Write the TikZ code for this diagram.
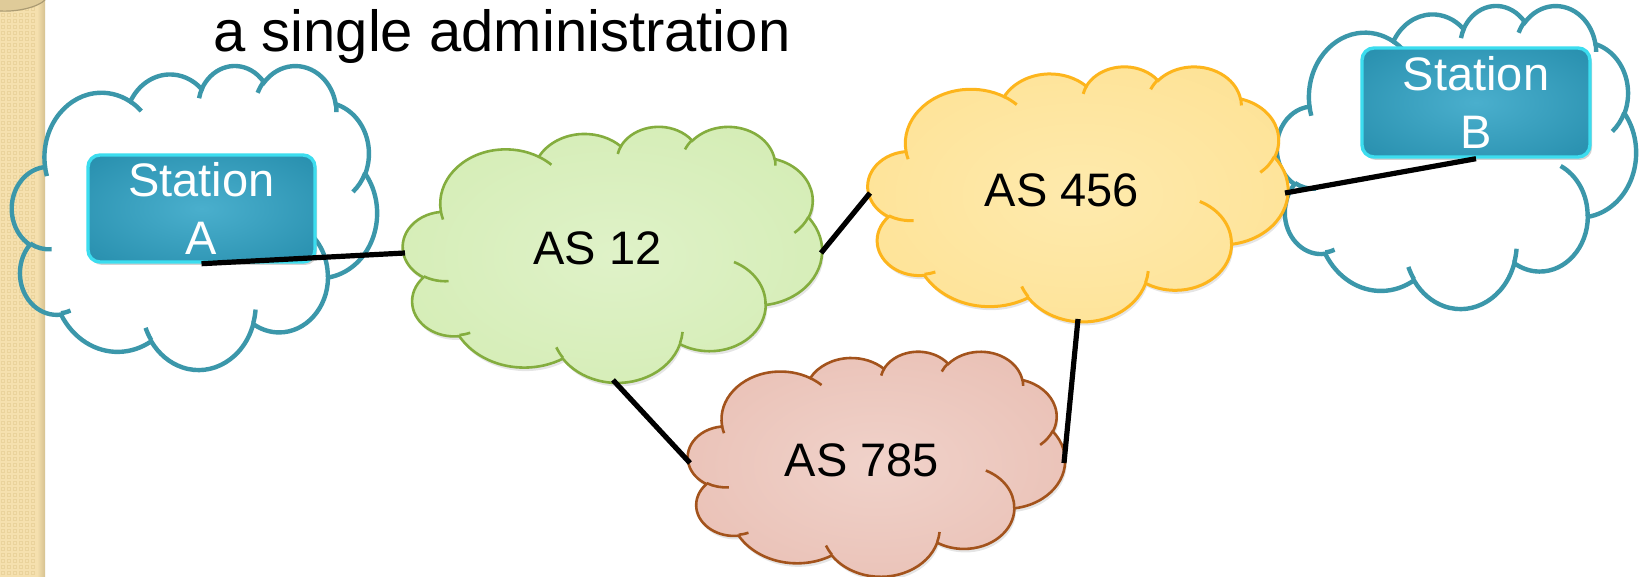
\documentclass[tikz,border=0pt]{standalone}
\usepackage{fontspec}
\setmainfont{Liberation Sans}
\usetikzlibrary{shadows}

\definecolor{tealstroke}{HTML}{3B97AA}
\definecolor{greenstroke}{HTML}{84AD3E}
\definecolor{greenin}{HTML}{DFF2C8}
\definecolor{greenout}{HTML}{CDE9A8}
\definecolor{yellowstroke}{HTML}{FDB51C}
\definecolor{yellowin}{HTML}{FEEAAD}
\definecolor{yellowout}{HTML}{FDDD86}
\definecolor{brownstroke}{HTML}{A3531C}
\definecolor{pinkin}{HTML}{F0D2CA}
\definecolor{pinkout}{HTML}{E5B4A7}
\definecolor{stationin}{HTML}{4AAFCD}
\definecolor{stationout}{HTML}{1E86A5}
\definecolor{stationrim}{HTML}{3CDDEF}
\definecolor{stripbase}{HTML}{F5E0AE}
\definecolor{stripgrid}{HTML}{EAD39C}
\definecolor{stripedge}{HTML}{D6C290}

\pgfdeclareradialshading{greenglow}{\pgfpointorigin}{color(0bp)=(greenin); color(50bp)=(greenout); color(100bp)=(greenout)}
\pgfdeclareradialshading{yellowglow}{\pgfpointorigin}{color(0bp)=(yellowin); color(50bp)=(yellowout); color(100bp)=(yellowout)}
\pgfdeclareradialshading{pinkglow}{\pgfpointorigin}{color(0bp)=(pinkin); color(50bp)=(pinkout); color(100bp)=(pinkout)}
\pgfdeclareradialshading{stationglow}{\pgfpointorigin}{color(0bp)=(stationin); color(45bp)=(stationout); color(100bp)=(stationout)}

% angle seen from the centre of an ellipse -> parameter angle of the ellipse
\makeatletter
\pgfmathdeclarefunction{visang}{3}{%
  \begingroup
  \pgfmathparse{atan2((#2)*sin(#1),(#3)*cos(#1))}%
  \let\va@tmp\pgfmathresult
  \pgfmathparse{\va@tmp+360*round(((#1)-\va@tmp)/360)}%
  \pgfmath@smuggleone\pgfmathresult
  \endgroup}
\makeatother

\tikzset{puff/.style args={#1/#2/#3/#4}{start angle={visang(#1,#3,#4)},
  end angle={visang(#1+#2,#3,#4)}, x radius=#3, y radius=#4}}

% cloud outline in a 432 x 432 box (y pointing down after the flip)
\newcommand\cloudoutline{(39.00,143.70)
 arc[puff=-190.4875/123.7805/67.53/91.90]
 arc[puff=-144.1024/89.9452/53.33/72.67]
 arc[puff=-145.8079/99.7230/43.65/59.45]
 arc[puff=-130.9861/117.2417/48.57/65.95]
 arc[puff=-78.7089/109.0269/53.33/72.73]
 arc[puff=-46.2673/130.2690/67.75/92.20]
 arc[puff=0.6250/114.0333/57.85/78.67]
 arc[puff=22.4516/115.1726/67.52/92.15]
 arc[puff=66.2426/75.7110/77.20/105.43]
 arc[puff=-274.9421/146.7356/43.60/59.18]
 arc[puff=-246.8285/152.5189/43.45/59.45]
 -- cycle}

% the short inner arcs between the puffs
\newcommand\cloudcreases{
 (46.93,261.77) arc[puff=86.7420/26.4295/43.45/59.45]
 (69.28,348.99) arc[puff=73.6105/11.4475/43.60/59.18]
 (164.78,390.90) arc[puff=137.6242/14.0811/67.52/92.15]
 (288.27,347.51) arc[puff=6.4533/15.9984/67.52/92.15]
 (341.29,229.54) arc[puff=-70.2924/70.9174/57.85/78.67]
 (417.98,153.54) arc[puff=30.3180/27.7515/53.33/72.73]
 (383.24,54.26) arc[puff=-13.7443/14.8589/48.57/65.95]
 (290.78,39.52) arc[puff=-149.1815/18.1954/48.57/65.95]
 (221.41,47.20) arc[puff=-163.4943/17.6864/43.65/59.45]
 (140.00,51.92) arc[puff=-66.7070/12.3194/67.53/91.90]
 (41.27,157.89) arc[puff=157.6544/11.8582/67.53/91.90]}

% #1,#2 top-left corner, #3 width, #4 height, #5 body style, #6 crease style
\newcommand\drawcloud[6]{%
 \begin{scope}[shift={(#1,#2)}, x=1pt, y=1pt, xscale=#3/864, yscale=-#4/864]
  \path[#5] \cloudoutline;
  \path[#6] \cloudcreases;
 \end{scope}}

% soft shadow under a filled cloud, same arguments as the first four above
\newcommand\cloudshadow[4]{%
 \begin{scope}[shift={(#1+1.5,#2+3.5)}, x=1pt, y=1pt, xscale=#3/864, yscale=-#4/864]
  \fill[black, opacity=0.10] \cloudoutline;
 \end{scope}}

\begin{document}
\begin{tikzpicture}[x=0.5pt, y=-0.5pt,
  tealcloud/.style={draw=tealstroke, line width=2.2pt},
  greencloud/.style={draw=greenstroke, line width=1.3pt, shading=greenglow},
  greencrease/.style={draw=greenstroke, line width=1.3pt},
  yellowcloud/.style={draw=yellowstroke, line width=1.5pt, shading=yellowglow},
  yellowcrease/.style={draw=yellowstroke, line width=1.5pt},
  pinkcloud/.style={draw=brownstroke, line width=1.3pt, shading=pinkglow},
  pinkcrease/.style={draw=brownstroke, line width=1.3pt},
  stationbox/.style={rectangle, rounded corners=6pt, inner sep=0pt,
    draw=stationrim, line width=1.7pt, shading=stationglow,
    drop shadow={shadow xshift=1pt, shadow yshift=-1.5pt, opacity=0.35},
    text=white, align=center, font=\fontsize{23.5}{29}\selectfont},
  aslabel/.style={inner sep=0pt, font=\fontsize{23.5}{28}\selectfont},
  link/.style={draw=black, line width=2.6pt}]

\useasboundingbox (0,0) rectangle (1639,577);
\fill[white] (0,0) rectangle (1639,577);

% decorative paper strip on the left
\fill[stripbase] (0,0) rectangle (45,577);
\foreach \i in {0,...,6}
  \foreach \j in {0,...,96}
    \draw[stripgrid, line width=0.35pt] (\i*6+1.5,\j*6+1.5) rectangle ++(3,3);
\shade[left color=stripbase, right color=stripedge] (37,0) rectangle (45,577);
\fill[stripedge!70!stripbase] (0,0) -- (45,0) .. controls (38,7) and (18,12) .. (0,11) -- cycle;
\draw[stripedge!80!black, line width=0.6pt] (45,0) .. controls (38,7) and (18,12) .. (0,11);

% heading line
\node[anchor=base west, inner sep=0pt, font=\fontsize{29}{34}\selectfont] (title) at (213,52) {a single administration};

% end-station clouds
\drawcloud{12}{65}{365}{304}{tealcloud}{tealcloud}
\drawcloud{1277}{5}{359}{303}{tealcloud}{tealcloud}

% stations
\node[stationbox, minimum width=113.5pt, minimum height=53.5pt] (staA) at (201.5,208.5) {Station\\A};
\node[stationbox, minimum width=114pt, minimum height=54.5pt] (staB) at (1476,102.5) {Station\\B};

% autonomous systems
\cloudshadow{403}{126}{419}{256}
\drawcloud{403}{126}{419}{256}{greencloud}{greencrease}
\cloudshadow{868}{66}{420}{255}
\drawcloud{868}{66}{420}{255}{yellowcloud}{yellowcrease}
\cloudshadow{688}{351}{377}{225}
\drawcloud{688}{351}{377}{225}{pinkcloud}{pinkcrease}

\node[aslabel] (as12) at (597.5,248.5) {AS 12};
\node[aslabel] (as456) at (1062,190) {AS 456};
\node[aslabel] (as785) at (862,460) {AS 785};

% attachment points on the cloud rims
\coordinate (as12-w) at (405,253);
\coordinate (as12-e) at (821,253);
\coordinate (as12-s) at (613,380);
\coordinate (as456-w) at (870,193);
\coordinate (as456-e) at (1285,193);
\coordinate (as456-s) at (1078,319);
\coordinate (as785-w) at (690,463);
\coordinate (as785-e) at (1064,463);

% links
\draw[link] (staA.south) -- (as12-w);
\draw[link] (as12-e) -- (as456-w);
\draw[link] (as12-s) -- (as785-w);
\draw[link] (as456-s) -- (as785-e);
\draw[link] (as456-e) -- (staB.south);
\end{tikzpicture}
\end{document}
